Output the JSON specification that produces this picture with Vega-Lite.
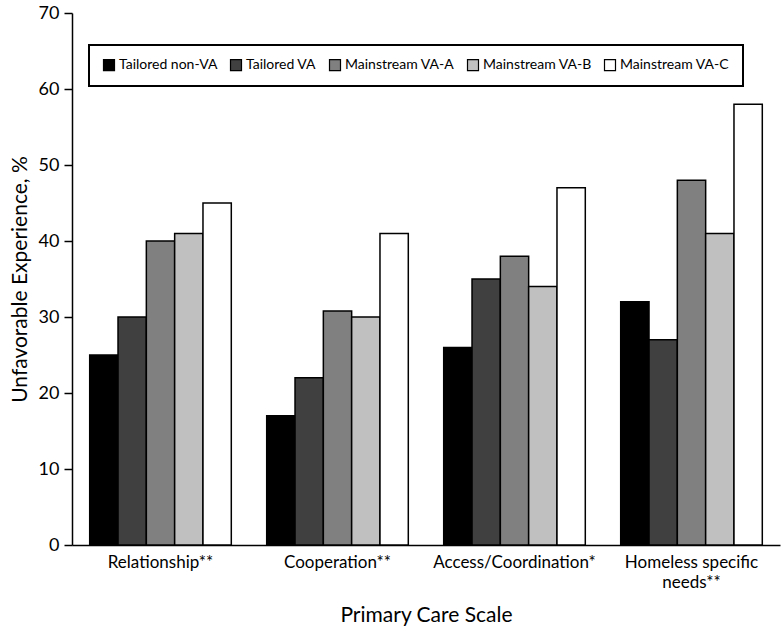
{
  "$schema": "https://vega.github.io/schema/vega-lite/v6.json",
  "width": 708,
  "height": 532,
  "autosize": {"type": "none"},
  "padding": {"left": 72, "top": 13, "right": 2, "bottom": 87},
  "background": "white",
  "config": {
    "font": "Lato",
    "view": {"stroke": null},
    "axis": {"grid": false, "domainColor": "black", "tickColor": "black", "labelColor": "black", "titleColor": "black", "titleFontWeight": "normal"}
  },
  "data": {
    "values": [
      {"scale": "Relationship**", "group": "Tailored non-VA", "value": 25},
      {"scale": "Relationship**", "group": "Tailored VA", "value": 30},
      {"scale": "Relationship**", "group": "Mainstream VA-A", "value": 40},
      {"scale": "Relationship**", "group": "Mainstream VA-B", "value": 41},
      {"scale": "Relationship**", "group": "Mainstream VA-C", "value": 45},
      {"scale": "Cooperation**", "group": "Tailored non-VA", "value": 17},
      {"scale": "Cooperation**", "group": "Tailored VA", "value": 22},
      {"scale": "Cooperation**", "group": "Mainstream VA-A", "value": 30.8},
      {"scale": "Cooperation**", "group": "Mainstream VA-B", "value": 30},
      {"scale": "Cooperation**", "group": "Mainstream VA-C", "value": 41},
      {"scale": "Access/Coordination*", "group": "Tailored non-VA", "value": 26},
      {"scale": "Access/Coordination*", "group": "Tailored VA", "value": 35},
      {"scale": "Access/Coordination*", "group": "Mainstream VA-A", "value": 38},
      {"scale": "Access/Coordination*", "group": "Mainstream VA-B", "value": 34},
      {"scale": "Access/Coordination*", "group": "Mainstream VA-C", "value": 47},
      {"scale": "Homeless specific needs**", "group": "Tailored non-VA", "value": 32},
      {"scale": "Homeless specific needs**", "group": "Tailored VA", "value": 27},
      {"scale": "Homeless specific needs**", "group": "Mainstream VA-A", "value": 48},
      {"scale": "Homeless specific needs**", "group": "Mainstream VA-B", "value": 41},
      {"scale": "Homeless specific needs**", "group": "Mainstream VA-C", "value": 58}
    ]
  },
  "mark": {"type": "bar", "stroke": "black", "strokeWidth": 1.5},
  "encoding": {
    "x": {
      "field": "scale", "type": "nominal",
      "sort": ["Relationship**", "Cooperation**", "Access/Coordination*", "Homeless specific needs**"],
      "scale": {"paddingInner": 0.2, "paddingOuter": 0.1},
      "axis": {
        "title": "Primary Care Scale", "titleFontSize": 21, "titlePadding": 14,
        "labelAngle": 0, "labelFontSize": 17, "ticks": false, "labelPadding": 9,
        "domainWidth": 1.5, "labelLimit": 300, "labelLineHeight": 20,
        "labelExpr": "datum.label == 'Homeless specific needs**' ? ['Homeless specific', 'needs**'] : datum.label"
      }
    },
    "xOffset": {
      "field": "group", "type": "nominal",
      "sort": ["Tailored non-VA", "Tailored VA", "Mainstream VA-A", "Mainstream VA-B", "Mainstream VA-C"],
      "scale": {"paddingInner": 0, "paddingOuter": 0}
    },
    "y": {
      "field": "value", "type": "quantitative",
      "scale": {"domain": [0, 70]},
      "axis": {
        "title": "Unfavorable Experience, %", "titleFontSize": 21, "titlePadding": 8,
        "values": [0, 10, 20, 30, 40, 50, 60, 70], "labelFontSize": 18, "tickSize": 8, "labelPadding": 5,
        "domainWidth": 1.5, "tickWidth": 1.5
      }
    },
    "fill": {
      "field": "group", "type": "nominal",
      "sort": ["Tailored non-VA", "Tailored VA", "Mainstream VA-A", "Mainstream VA-B", "Mainstream VA-C"],
      "scale": {
        "domain": ["Tailored non-VA", "Tailored VA", "Mainstream VA-A", "Mainstream VA-B", "Mainstream VA-C"],
        "range": ["#000000", "#404040", "#808080", "#c0c0c0", "#ffffff"]
      },
      "legend": {
        "title": null, "orient": "none", "legendX": 17, "legendY": 32,
        "direction": "horizontal", "columns": 5,
        "strokeColor": "black", "padding": 13, "fillColor": "white",
        "symbolType": "square", "symbolSize": 121, "symbolStrokeColor": "black", "symbolStrokeWidth": 1.2,
        "labelFontSize": 14, "labelColor": "black", "columnPadding": 10, "labelOffset": 3,
        "encode": {"legend": {"update": {"strokeWidth": {"value": 2}}}}
      }
    }
  }
}
